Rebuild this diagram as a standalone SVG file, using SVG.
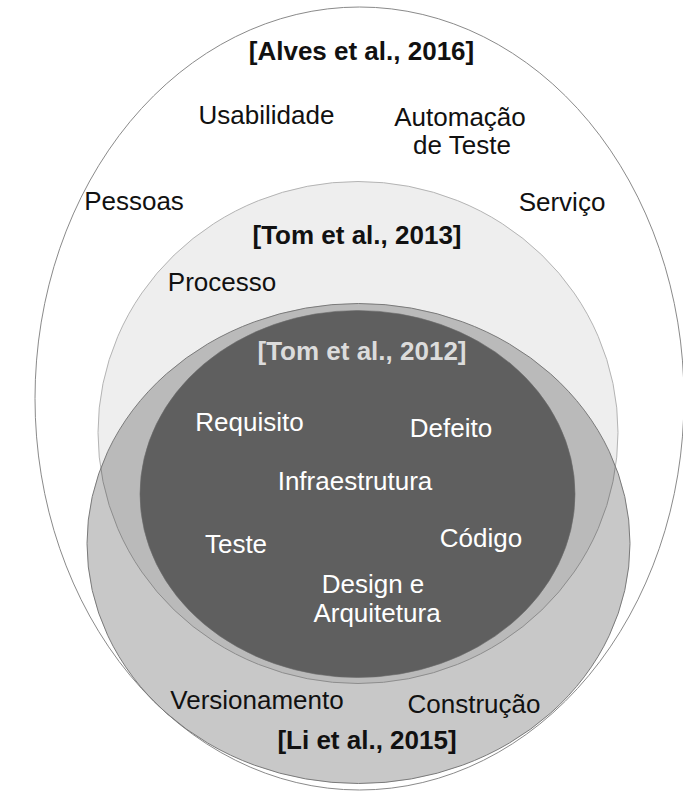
<svg xmlns="http://www.w3.org/2000/svg" width="683" height="795" viewBox="0 0 683 795">
<style>
text{font-family:"Liberation Sans",Arial,sans-serif;font-size:26px;text-anchor:middle}
.lbl{font-weight:bold}
.blk{fill:#111111}
.wht{fill:#ffffff}
.ref12{fill:#dcdcdc;font-weight:bold}
</style>
<rect width="683" height="795" fill="#ffffff"/>
<g id="alves2016">
<ellipse cx="359.5" cy="398.5" rx="324.5" ry="391.5" fill="#ffffff" stroke="#8a8a8a" stroke-width="1"/>
<text class="lbl blk" x="361.5" y="60">[Alves et al., 2016]</text>
<text class="blk" x="266.5" y="124">Usabilidade</text>
<text class="blk" x="460" y="126">Automação</text>
<text class="blk" x="462" y="154">de Teste</text>
<text class="blk" x="134" y="210">Pessoas</text>
<text class="blk" x="562" y="211">Serviço</text>
</g>
<g id="tom2013">
<ellipse cx="358" cy="432.5" rx="260" ry="251" fill="#eeeeee" stroke="#b4b4b4" stroke-width="1"/>
<text class="lbl blk" x="357" y="244">[Tom et al., 2013]</text>
<text class="blk" x="222" y="291">Processo</text>
</g>
<g id="li2015">
<ellipse cx="358.5" cy="543.5" rx="271.5" ry="240" fill="#000000" fill-opacity="0.215" stroke="#7a7a7a" stroke-width="1"/>
<text class="blk" x="257" y="709">Versionamento</text>
<text class="blk" x="474" y="713">Construção</text>
<text class="lbl blk" x="367" y="749">[Li et al., 2015]</text>
</g>
<g id="tom2012">
<ellipse cx="357.5" cy="494" rx="217.5" ry="183.5" fill="#5f5f5f" stroke="#6a6a6a" stroke-width="0.6"/>
<text class="ref12" x="362" y="360">[Tom et al., 2012]</text>
<text class="wht" x="249.5" y="431">Requisito</text>
<text class="wht" x="451" y="437">Defeito</text>
<text class="wht" x="355" y="490">Infraestrutura</text>
<text class="wht" x="236" y="553">Teste</text>
<text class="wht" x="481" y="547">Código</text>
<text class="wht" x="373" y="593">Design e</text>
<text class="wht" x="377" y="622">Arquitetura</text>
</g>
<g id="connectors"/>
</svg>
